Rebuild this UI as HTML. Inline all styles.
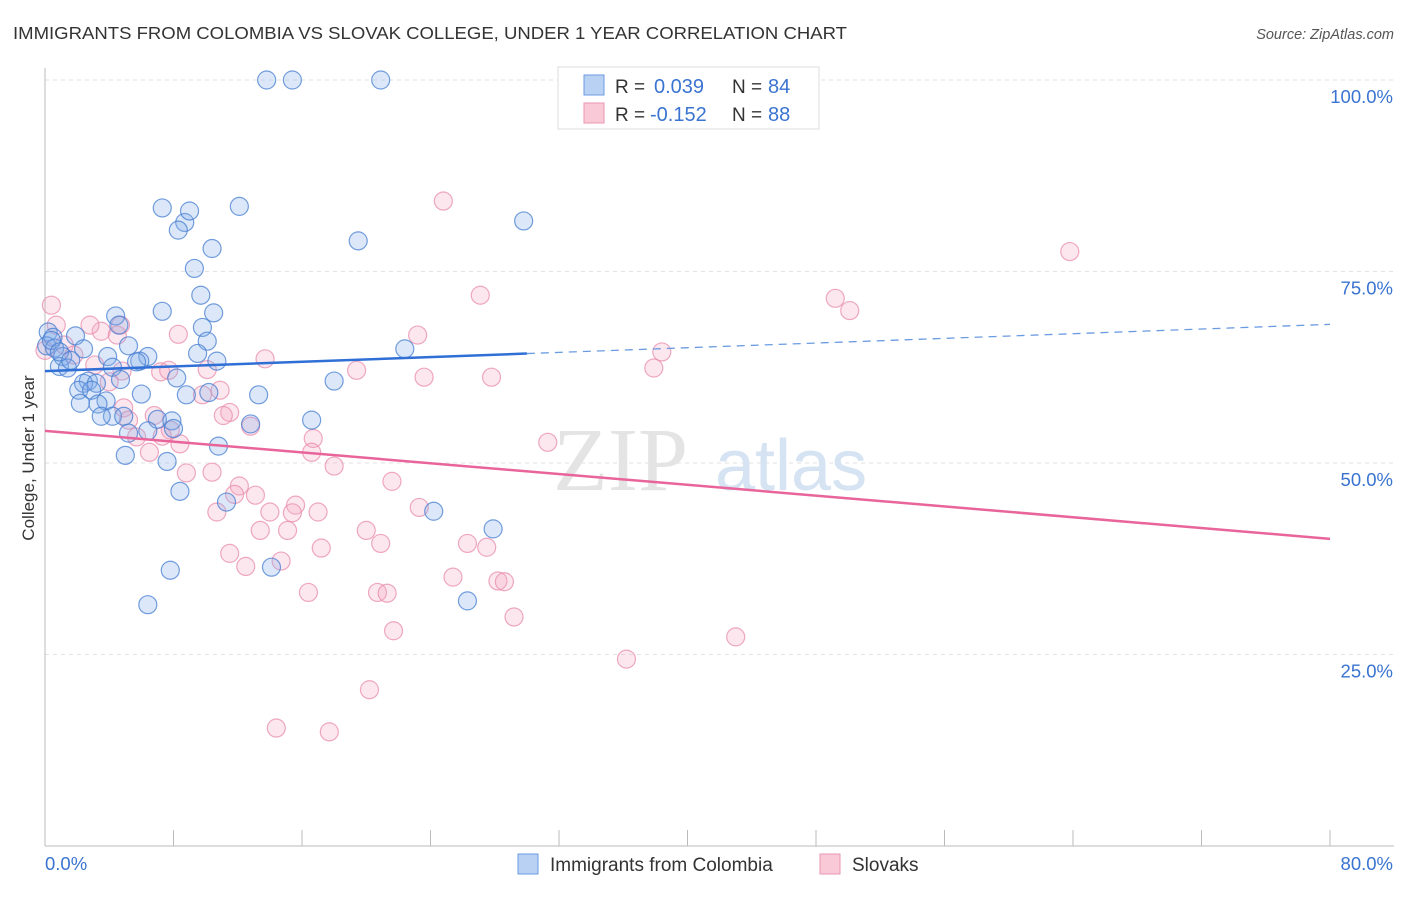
<!DOCTYPE html>
<html><head><meta charset="utf-8"><style>
body{margin:0;background:#fff;font-family:"Liberation Sans",sans-serif}
</style></head><body>
<svg id="chart" width="1406" height="892" xmlns="http://www.w3.org/2000/svg" font-family="Liberation Sans, sans-serif">
<text x="13" y="39" font-size="17.5" fill="#333" textLength="834" lengthAdjust="spacingAndGlyphs">IMMIGRANTS FROM COLOMBIA VS SLOVAK COLLEGE, UNDER 1 YEAR CORRELATION CHART</text>
<text x="1394" y="39" font-size="14.5" fill="#555" text-anchor="end" font-style="italic">Source: ZipAtlas.com</text>
<g id="grid"></g>
<g><text x="553" y="490" font-size="90" fill="#e4e4e4" font-family="Liberation Serif, serif">ZIP</text><text x="715" y="490" font-size="72" fill="#d5e3f3">atlas</text></g>
<g id="pts"></g>
<g id="trends"></g>
<g>
<rect x="558" y="67" width="261" height="62" fill="#fff" stroke="#ddd"/>
<rect x="584" y="75" width="20" height="20" fill="#b9d1f3" stroke="#6b9be0"/>
<rect x="584" y="103" width="20" height="20" fill="#f9c9d7" stroke="#ea96b0"/>
<text x="615" y="93" font-size="19" fill="#333">R =</text>
<text x="654" y="93" font-size="20" fill="#3a74d0">0.039</text>
<text x="732" y="93" font-size="19" fill="#333">N =</text>
<text x="768" y="93" font-size="20" fill="#3a74d0">84</text>
<text x="615" y="121" font-size="19" fill="#333">R =</text>
<text x="650" y="121" font-size="20" fill="#3a74d0">-0.152</text>
<text x="732" y="121" font-size="19" fill="#333">N =</text>
<text x="768" y="121" font-size="20" fill="#3a74d0">88</text>
</g>
<g>
<rect x="518" y="854" width="20" height="20" fill="#b9d1f3" stroke="#6b9be0"/>
<text x="550" y="871" font-size="19" fill="#333">Immigrants from Colombia</text>
<rect x="820" y="854" width="20" height="20" fill="#f9c9d7" stroke="#ea96b0"/>
<text x="852" y="871" font-size="19" fill="#333">Slovaks</text>
</g>
<text transform="translate(34,458) rotate(-90)" text-anchor="middle" font-size="17" fill="#333">College, Under 1 year</text>
</svg>
<script>
const blueX=[13.8,15.4,20.9,7.3,8.7,9.0,8.3,12.1,29.8,10.4,19.5,9.3,9.7,7.3,10.5,4.4,4.6,9.8,0.2,1.9,0.5,10.1,5.2,0.1,0.6,2.4,3.9,6.4,1.1,9.5,10.7,5.9,5.7,22.4,0.9,1.4,4.2,8.2,4.7,18.0,2.7,2.4,3.2,2.1,2.9,6.0,10.2,8.8,13.3,3.8,2.2,3.3,4.2,3.5,4.9,7.0,7.9,12.8,16.6,5.2,8.0,6.4,10.8,5.0,7.6,8.4,11.3,24.2,27.9,7.8,14.1,26.3,6.4,0.4,0.9,1.6];
const blueY=[100,100,100,83.3,81.4,82.9,80.4,83.5,81.6,78.0,79.0,75.4,71.9,69.8,69.6,69.2,68.0,67.7,67.1,66.6,66.4,65.9,65.3,65.3,65.0,64.9,63.9,63.9,63.9,64.3,63.3,63.3,63.2,64.9,62.6,62.4,62.5,61.1,60.9,60.7,60.7,60.4,60.4,59.5,59.5,59.0,59.2,58.9,58.9,58.1,57.8,57.7,56.1,56.1,56.1,55.7,55.5,55.1,55.6,53.9,54.5,54.2,52.2,51.0,50.2,46.3,44.9,43.7,41.4,36.0,36.4,32.0,31.5,66.0,64.5,63.4];
const pinkX=[0.4,0.7,0,3.5,4.5,4.7,1.2,1.8,3.1,4.8,7.2,10.1,7.7,13.7,19.4,23.2,23.6,27.1,27.8,38.4,37.9,49.2,50.1,63.8,24.8,10.9,9.8,11.5,6.8,4.9,5.2,7.8,11.1,12.8,16.7,5.7,6.5,8.4,7.3,16.6,18.0,8.8,10.4,12.1,21.6,23.3,31.3,11.8,13.1,10.7,14.0,15.6,15.4,17.0,15.1,13.4,11.5,12.5,14.7,17.2,20.0,20.9,26.3,27.5,25.4,28.2,28.6,20.7,21.3,16.4,29.2,21.7,36.2,43.0,20.2,14.4,17.7,8.3,2.8,4.0];
const pinkY=[70.6,68.0,64.7,67.2,66.7,68.0,65.4,64.1,62.8,62.0,61.9,62.2,62.1,63.6,62.1,66.7,61.2,71.9,61.2,64.5,62.4,71.5,69.9,77.6,84.2,59.5,58.9,56.6,56.2,57.2,55.6,54.3,56.2,54.8,53.2,53.4,51.4,52.5,53.5,51.4,49.6,48.7,48.8,47.0,47.6,44.2,52.7,45.9,45.8,43.6,43.6,44.5,43.5,43.6,41.2,41.2,38.2,36.5,37.2,38.9,41.2,39.5,39.5,39.0,35.1,34.6,34.5,33.1,33.0,33.1,29.9,28.1,24.4,27.3,20.4,15.4,14.9,66.8,68.0,60.6];
const yTicks=[25,50,75,100];
const yTickLabels=["25.0%","50.0%","75.0%","100.0%"];
const xTicks=[0,8,16,24,32,40,48,56,64,72,80];
const blueTrend=[62.0,68.1];
const pinkTrend=[54.2,40.1];
const blueSolidEnd=30;
const NS="http://www.w3.org/2000/svg";
const sx=v=>45+v/80*1285, sy=v=>846-v/100*766;
function mk(tag,attrs,parent){const e=document.createElementNS(NS,tag);for(const k in attrs)e.setAttribute(k,attrs[k]);parent.appendChild(e);return e;}
const grid=document.getElementById('grid');
yTicks.forEach((t,i)=>{
 const l=mk('line',{x1:45,x2:1394,y1:sy(t),y2:sy(t),stroke:'#e2e2e2','stroke-dasharray':'4,4'},grid);
 
 
 const tx=mk('text',{x:1393,y:sy(t)+23,'text-anchor':'end','font-size':18.5,fill:'#3a74d0'},grid);
 tx.textContent=yTickLabels[i];
 
 
});
const ax=mk('line',{x1:45,x2:45,y1:68,y2:846,stroke:'#bbb'},grid);


const bx=mk('line',{x1:45,x2:1394,y1:846,y2:846,stroke:'#bbb'},grid);


xTicks.forEach(t=>{
 const l=mk('line',{x1:sx(t),x2:sx(t),y1:830,y2:846,stroke:'#bbb'},grid);
 
 
});
[["0.0%",45,'start'],["80.0%",1393,'end']].forEach(a=>{
 const t=mk('text',{x:a[1],y:870,'text-anchor':a[2],'font-size':18.5,fill:'#3a74d0'},grid);
 t.textContent=a[0];
 
 
});
const pts=document.getElementById('pts');
pinkX.forEach((x,i)=>{
 const c=mk('circle',{cx:sx(x),cy:sy(pinkY[i]),r:9,fill:'rgba(244,170,195,0.28)',stroke:'rgba(232,140,172,0.75)','stroke-width':1.2},pts);
 
 
});
blueX.forEach((x,i)=>{
 const c=mk('circle',{cx:sx(x),cy:sy(blueY[i]),r:9,fill:'rgba(130,172,232,0.28)',stroke:'rgba(70,125,210,0.75)','stroke-width':1.2},pts);
 
 
});
const tr=document.getElementById('trends');
const bAt=v=>blueTrend[0]+(blueTrend[1]-blueTrend[0])*v/80;
let l1=mk('line',{x1:sx(0),y1:sy(blueTrend[0]),x2:sx(blueSolidEnd),y2:sy(bAt(blueSolidEnd)),stroke:'#2f6fd6','stroke-width':2.5},tr);


let l2=mk('line',{x1:sx(blueSolidEnd),y1:sy(bAt(blueSolidEnd)),x2:sx(80),y2:sy(blueTrend[1]),stroke:'#6b9be0','stroke-width':1.3,'stroke-dasharray':'8,6'},tr);


let l3=mk('line',{x1:sx(0),y1:sy(pinkTrend[0]),x2:sx(80),y2:sy(pinkTrend[1]),stroke:'#e8649a','stroke-width':2.5},tr);


</script>
</body></html>
